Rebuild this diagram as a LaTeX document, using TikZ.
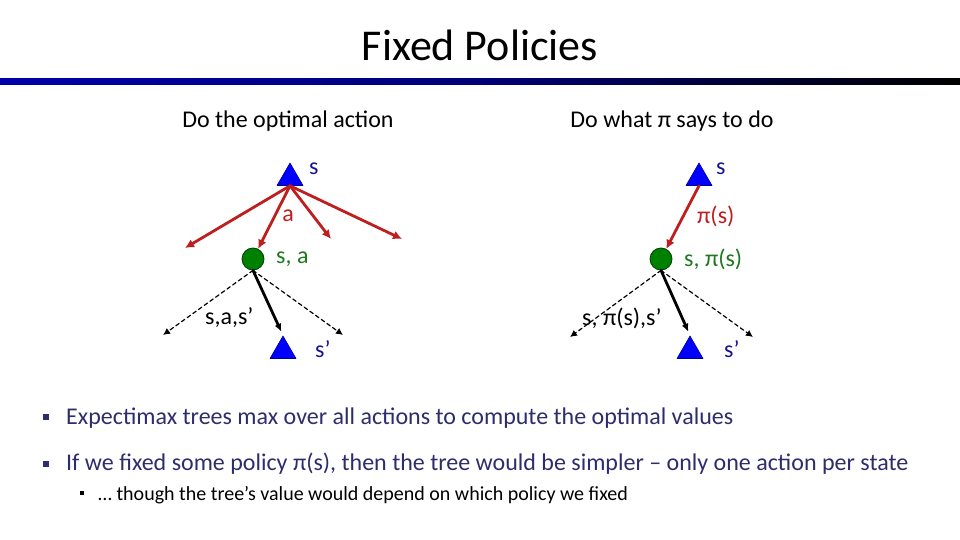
\documentclass[tikz,border=0pt]{standalone}
\usepackage{fontspec}
\setmainfont{Carlito}
\usetikzlibrary{shapes.geometric,arrows.meta}
\definecolor{statecol}{RGB}{0,0,255}
\definecolor{statetxt}{RGB}{20,20,150}
\definecolor{qcol}{RGB}{0,128,0}
\definecolor{qtxt}{RGB}{30,120,30}
\definecolor{actcol}{RGB}{190,30,30}
\definecolor{bodytxt}{RGB}{45,45,110}
\definecolor{barblue}{RGB}{0,0,170}
\tikzset{
    lab/.style={
        font=\fontsize{24}{28}\selectfont, inner sep=0pt
    },
    maxnode/.style={
        regular polygon, regular polygon sides=3, minimum size=30pt,
        inner sep=0pt, fill=statecol, draw=statecol!60!black, line width=0.6pt
    },
    chance/.style={
        circle, minimum size=22pt, inner sep=0pt,
        fill=qcol, draw=qcol!50!black, line width=0.8pt
    },
    act/.style={
        draw=actcol, line width=2.8pt, -{Latex[length=9pt,width=9pt]}
    },
    outcome/.style={
        draw=black, line width=1.2pt, dash pattern=on 4pt off 3pt, -{Latex[length=7pt,width=7pt]}
    },
    taken/.style={
        draw=black, line width=2.8pt, -{Latex[length=8pt,width=7pt]}
    }
}

\begin{document}
\begin{tikzpicture}[x=1pt,y=-1pt,line cap=round,line join=round]
\useasboundingbox (0,0) rectangle (960,540);

% --- title and bar ---
    \node[font=\fontsize{44}{50}\selectfont, inner sep=0pt] (title) at (480,45) {Fixed Policies};
    \shade[left color=barblue, right color=black, middle color=barblue!70!black] (0,79) rectangle (960,85);

% --- column headings ---
    \node[lab] (headL) at (288,121) {Do the optimal action};
    \node[lab] (headR) at (672,121) {Do what π says to do};

% --- left tree: all actions ---
    \node[maxnode] (sL) at (290,178) {};
    \node[chance] (qL) at (253,259) {};
    \node[maxnode] (spL) at (283,351) {};
    \coordinate (aL1) at (185,248);
    \coordinate (aL3) at (331,239);
    \coordinate (aL4) at (402,239);
    \coordinate (oL1) at (163,335);
    \coordinate (oL3) at (343,335);

    \draw[act] (sL.south) -- (aL1);
    \draw[act] (sL.south) -- (qL);
    \draw[act] (sL.south) -- (aL3);
    \draw[act] (sL.south) -- (aL4);
    \draw[outcome] (qL.south) -- (oL1);
    \draw[outcome] (qL.south) -- (oL3);
    \draw[taken, shorten >=4pt] (qL.south) -- (spL.north);

    \node[lab, text=statetxt, anchor=west] (sLlab) at (309,169) {s};
    \node[lab, text=actcol] (aLlab) at (288,216) {a};
    \node[lab, text=qtxt, anchor=west] (qLlab) at (276,259) {s, a};
    \node[lab, anchor=west] (tLlab) at (205,318) {s,a,s’};
    \node[lab, text=statetxt, anchor=west] (spLlab) at (315,349) {s’};

% --- right tree: fixed policy ---
    \node[maxnode] (sR) at (699,178) {};
    \node[chance] (qR) at (661,259) {};
    \node[maxnode] (spR) at (690,351) {};
    \coordinate (oR1) at (570,337);
    \coordinate (oR3) at (753,337);

    \draw[act] (sR.south) -- (qR);
    \draw[outcome] (qR.south) -- (oR1);
    \draw[outcome] (qR.south) -- (oR3);
    \draw[taken, shorten >=4pt] (qR.south) -- (spR.north);

    \node[lab, text=statetxt, anchor=west] (sRlab) at (716,169) {s};
    \node[lab, text=actcol, anchor=west] (aRlab) at (697,216) {π(s)};
    \node[lab, text=qtxt, anchor=west] (qRlab) at (684,259) {s, π(s)};
    \node[lab, anchor=west] (tRlab) at (582,318) {s, π(s),s’};
    \node[lab, text=statetxt, anchor=west] (spRlab) at (724,349) {s’};

% --- bullets ---
    \fill[bodytxt] (43,414) rectangle (49,420);
    \node[lab, text=bodytxt, anchor=west] (b1) at (66,418) {Expectimax trees max over all actions to compute the optimal values};
    \fill[bodytxt] (43,461) rectangle (49,467);
    \node[lab, text=bodytxt, anchor=west] (b2) at (66,464) {If we fixed some policy π(s), then the tree would be simpler -- only one action per state};
    \fill[black] (80,491) rectangle (84,495);
    \node[font=\fontsize{20}{24}\selectfont, inner sep=0pt, anchor=west] (b3) at (98,495) {… though the tree’s value would depend on which policy we fixed};

\end{tikzpicture}
\end{document}
